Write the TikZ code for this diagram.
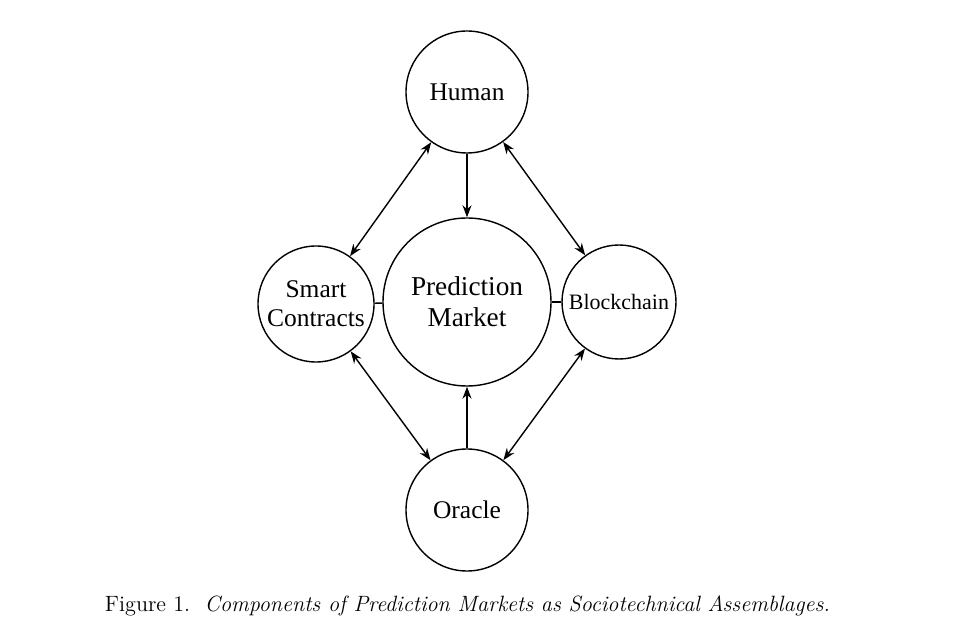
\documentclass[tikz,border=0pt]{standalone}
\usepackage{fontspec}
\newfontfamily\timesfont{Liberation Serif}
\usetikzlibrary{positioning, arrows.meta}
\begin{document}
\begin{tikzpicture}[
    every node/.style={align=center},
    comp/.style={circle, draw, thick, inner sep=0pt, font=\timesfont\fontsize{14.5}{16.5}\selectfont},
    link/.style={{Stealth[length=2.4mm]}-{Stealth[length=2.4mm]}, thick},
    oneway/.style={-{Stealth[length=2.4mm]}, thick},
    tie/.style={thick}
]
\useasboundingbox (0,0) rectangle (19.2,12.7);

% components
\node[comp, minimum size=2.44cm] (Human) at (9.34,10.86) {Human};
\node[comp, minimum size=3.36cm, font=\timesfont\fontsize{15.5}{17.5}\selectfont] (PM) at (9.34,6.66) {Prediction\\Market};
\node[comp, minimum size=2.32cm] (SC) at (6.32,6.62) {Smart\\Contracts};
\node[comp, minimum size=2.28cm, font=\timesfont\fontsize{12.5}{15}\selectfont] (BC) at (12.38,6.66) {Blockchain};
\node[comp, minimum size=2.44cm] (Oracle) at (9.34,2.50) {Oracle};

% connectors
\draw[oneway] (Human) -- (PM);
\draw[oneway] (Oracle) -- (PM);
\draw[link] (Human) -- (SC);
\draw[link] (Human) -- (BC);
\draw[link] (Oracle) -- (SC);
\draw[link] (Oracle) -- (BC);
\draw[tie] (SC) -- (PM);
\draw[tie] (PM) -- (BC);

% caption
\node[font=\fontsize{12.6}{15}\selectfont] (cap) at (9.35,0.58) {Figure 1.\ \ \textit{Components of Prediction Markets as Sociotechnical Assemblages.}};
\end{tikzpicture}
\end{document}
